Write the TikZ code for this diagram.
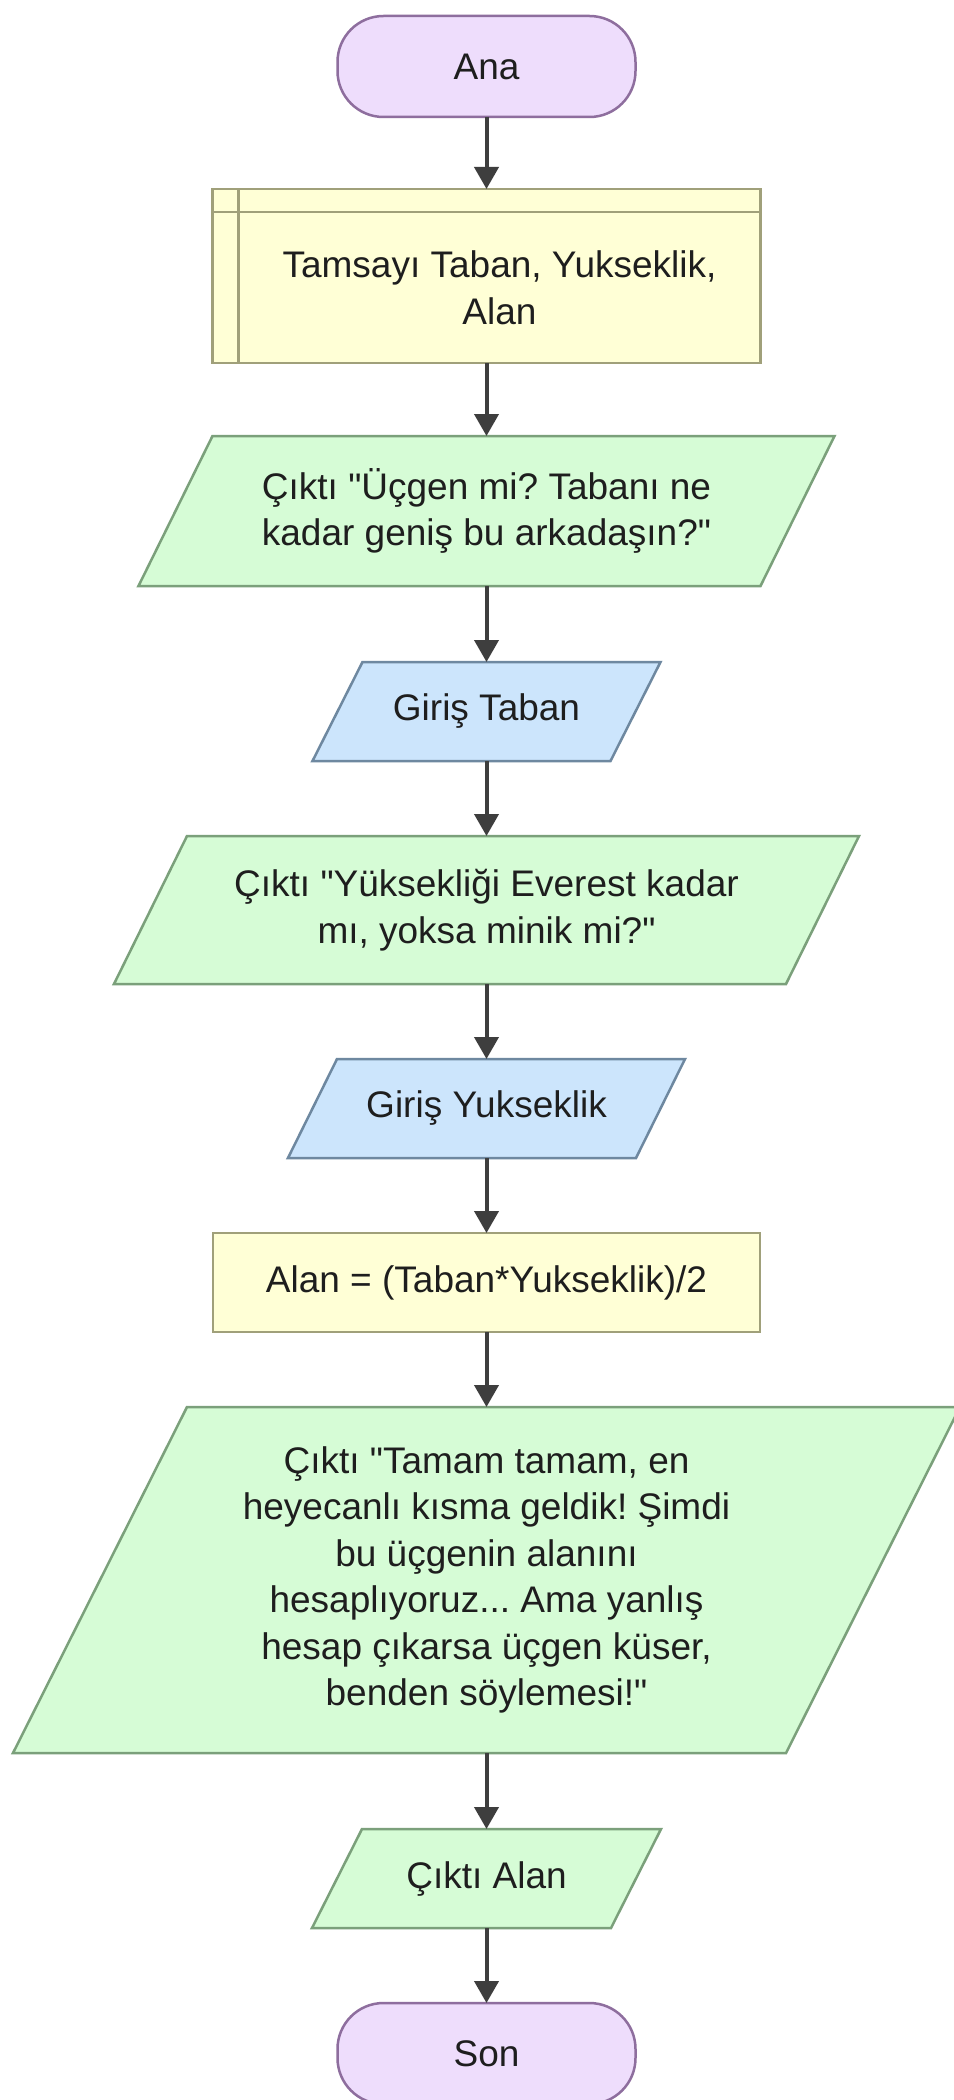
\documentclass[tikz,border=0pt]{standalone}
\usepackage{fontspec}
\setmainfont{Liberation Sans}[Ligatures=TeXOff]
\usetikzlibrary{arrows.meta,calc,backgrounds}
\definecolor{termfill}{HTML}{EEDDFC}
\definecolor{termdraw}{HTML}{8E6E9E}
\definecolor{procfill}{HTML}{FFFFD6}
\definecolor{procdraw}{HTML}{A0A07A}
\definecolor{outfill}{HTML}{D6FCD6}
\definecolor{outdraw}{HTML}{7BA07B}
\definecolor{infill}{HTML}{CCE5FC}
\definecolor{indraw}{HTML}{6E88A0}
\definecolor{arrowcol}{HTML}{3E3E3E}
\definecolor{txtcol}{HTML}{1E1E1E}
\newcommand{\drawio}[4]{\path[fill=#3, draw=#4, line width=2.5pt, line join=miter]
  (#1.south west) -- ($(#1.north west)+(#2,0)$) -- (#1.north east) -- ($(#1.south east)-(#2,0)$) -- cycle;}
\frenchspacing
\begin{document}
\begin{tikzpicture}[x=1pt,y=-1pt,
  base/.style={inner sep=0pt, outer sep=0pt, align=center, text=txtcol,
    font=\fontsize{37}{46.5}\selectfont\frenchspacing},
  term/.style={base, draw=termdraw, fill=termfill, line width=2.5pt,
    rounded corners=46pt, minimum width=298pt, minimum height=101pt},
  procbox/.style={base, draw=procdraw, fill=procfill, line width=2.5pt},
  arr/.style={draw=arrowcol, line width=4pt, -{Triangle[width=24pt,length=22pt]}}
]
\useasboundingbox (0,0) rectangle (953,2100);

\node[term] (ana) at (486.5,66.5) {Ana};

\node[procbox, minimum width=548pt, minimum height=174pt] (decl) at (486.5,276) {};
\draw[procdraw, line width=2.5pt] ($(decl.north west)+(26,0)$) -- ($(decl.south west)+(26,0)$);
\draw[procdraw, line width=2.5pt] ($(decl.north west)+(0,23)$) -- ($(decl.north east)+(0,23)$);
\node[base] (decltxt) at (499.5,288) {Tamsayı Taban, Yukseklik,\\Alan};

\node[base, minimum width=696pt, minimum height=150pt] (out1) at (486.5,511)
  {Çıktı "Üçgen mi? Tabanı ne\\kadar geniş bu arkadaşın?"};

\node[base, minimum width=348pt, minimum height=99pt] (intaban) at (486.5,711.5) {Giriş Taban};

\node[base, minimum width=745pt, minimum height=148pt] (out2) at (486.5,910)
  {Çıktı "Yüksekliği Everest kadar\\mı, yoksa minik mi?"};

\node[base, minimum width=397pt, minimum height=99pt] (inyuk) at (486.5,1108.5) {Giriş Yukseklik};

\node[procbox, minimum width=547pt, minimum height=99pt] (proc) at (486.5,1282.5)
  {Alan = (Taban*Yukseklik)/2};

\node[base, minimum width=947pt, minimum height=346pt] (outbig) at (486.5,1580)
  {Çıktı "Tamam tamam, en\\heyecanlı kısma geldik! Şimdi\\bu üçgenin alanını\\hesaplıyoruz... Ama yanlış\\hesap çıkarsa üçgen küser,\\benden söylemesi!"};

\node[base, minimum width=349pt, minimum height=99pt] (outalan) at (486.5,1878.5) {Çıktı Alan};

\node[term] (son) at (486.5,2053.5) {Son};

\begin{pgfonlayer}{background}
  \fill[white] (0,0) rectangle (953,2100);
  \drawio{out1}{74}{outfill}{outdraw}
  \drawio{intaban}{50}{infill}{indraw}
  \drawio{out2}{73}{outfill}{outdraw}
  \drawio{inyuk}{49}{infill}{indraw}
  \drawio{outbig}{174}{outfill}{outdraw}
  \drawio{outalan}{50}{outfill}{outdraw}
\end{pgfonlayer}

\draw[arr] (ana.south) -- (decl.north);
\draw[arr] (decl.south) -- (out1.north);
\draw[arr] (out1.south) -- (intaban.north);
\draw[arr] (intaban.south) -- (out2.north);
\draw[arr] (out2.south) -- (inyuk.north);
\draw[arr] (inyuk.south) -- (proc.north);
\draw[arr] (proc.south) -- (outbig.north);
\draw[arr] (outbig.south) -- (outalan.north);
\draw[arr] (outalan.south) -- (son.north);
\end{tikzpicture}
\end{document}
